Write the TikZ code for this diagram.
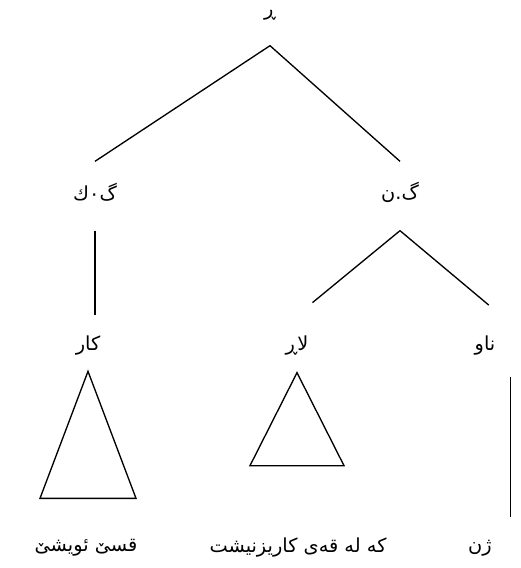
\documentclass[tikz,border=0pt]{standalone}
\usepackage{fontspec}
\newfontfamily\arabicfont[Script=Arabic]{DejaVu Sans}
\TeXXeTstate=1
\usetikzlibrary{positioning}
\tikzset{
  every picture/.style={line width=1pt},
  lbl/.style={font=\arabicfont\fontsize{14.5}{16}\selectfont, inner sep=0pt, minimum height=45pt},
  branch/.style={draw=black, line width=1pt},
  tri/.style={draw=black, line width=1pt},
}

\begin{document}
\begin{tikzpicture}[x=0.75pt, y=-0.75pt]
  \useasboundingbox (0,0) rectangle (521,568);
  % top of the tree
  \node[lbl] (root) at (270,15) {\beginR ڕ\endR};
  \node[lbl] (gk) at (95,192) {\beginR گ٠ك\endR};
  \node[lbl] (gn) at (400,192) {\beginR گ.ن\endR};
  \draw[branch] (root.south) -- (gk.north);
  \draw[branch] (root.south) -- (gn.north);
  % phrase heads
  \node[lbl] (kar) at (88,346) {\beginR كار\endR};
  \node[lbl] (lar) at (297,346) {\beginR لاڕ\endR};
  \node[lbl] (naw) at (485,346) {\beginR ناو\endR};
  \draw[branch, shorten <=6pt] (gk.south) -- (gk.south |- kar.north);
  \draw[branch, shorten >=15pt] ([yshift=-6pt]gn.south) -- (lar.north);
  \draw[branch, shorten >=12pt] ([yshift=-6pt]gn.south) -- ([xshift=12pt]naw.north);
  % leaves
  \node[lbl] (qse) at (86,548) {\beginR قسێ ئویشێ\endR};
  \node[lbl] (kel) at (298,548) {\beginR كه له قه^^^^200cی كاریزنیشت\endR};
  \node[lbl] (zhn) at (480,548) {\beginR ژن\endR};
  \draw[tri] ([yshift=4pt]kar.south) -- ++(-48,127) -- ++(96,0) -- cycle;
  \draw[tri] ([yshift=3pt]lar.south) -- ++(-47,93) -- ++(94,0) -- cycle;
  \draw[branch] ([xshift=19pt]naw.south) -- ([xshift=19pt]naw.south |- zhn.north);
\end{tikzpicture}
\end{document}
